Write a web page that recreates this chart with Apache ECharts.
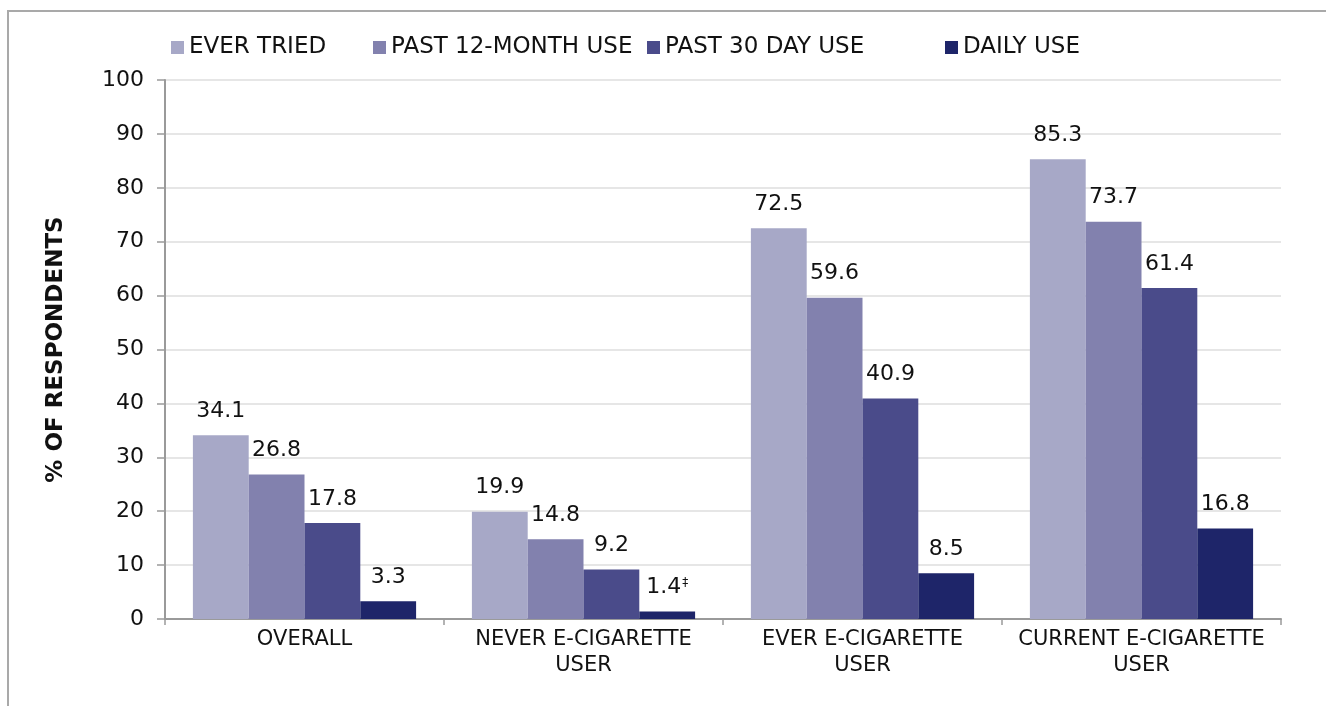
<!DOCTYPE html>
<html><head><meta charset="utf-8">
<script src="https://cdn.jsdelivr.net/npm/echarts@6/dist/echarts.min.js"></script>
<style>
html,body{margin:0;padding:0;background:#fff;}
#frame{position:absolute;left:7px;top:10px;right:0;bottom:0;border-top:2px solid #a9a9a9;border-left:2px solid #a9a9a9;}
#c{position:absolute;left:0;top:0;width:1326px;height:706px;}
</style></head>
<body>
<div id="frame"></div>
<div id="c"></div>
<script>
const categories = ['OVERALL', 'NEVER E-CIGARETTE\nUSER', 'EVER E-CIGARETTE\nUSER', 'CURRENT E-CIGARETTE\nUSER'];
const seriesNames = ['EVER TRIED', 'PAST 12-MONTH USE', 'PAST 30 DAY USE', 'DAILY USE'];
const everTried = [34.1, 19.9, 72.5, 85.3];
const past12Month = [26.8, 14.8, 59.6, 73.7];
const past30Day = [17.8, 9.2, 40.9, 61.4];
const dailyUse = [3.3, 1.4, 8.5, 16.8];
const dailyUseNotes = ['', '‡', '', ''];
const yTicks = [0, 10, 20, 30, 40, 50, 60, 70, 80, 90, 100];
const colors = ['#a7a8c7', '#8281ae', '#4a4b8a', '#1e2569'];
const legendLefts = [171, 373, 647, 945];
const FONT = 'DejaVu Sans';

const allValues = [everTried, past12Month, past30Day, dailyUse];
const notes = [null, null, null, dailyUseNotes];

const chart = echarts.init(document.getElementById('c'), null, {renderer: 'canvas'});
chart.setOption({
  animation: false,
  color: colors,
  textStyle: {fontFamily: FONT},
  legend: seriesNames.map((n, i) => ({
    top: 36, left: legendLefts[i],
    itemWidth: 13, itemHeight: 13, itemGap: 0, padding: 0,
    icon: 'rect',
    textStyle: {fontSize: 23, color: '#111', fontFamily: FONT},
    data: [n]
  })),
  grid: {left: 165, right: 45, top: 80, bottom: 87, containLabel: false},
  xAxis: {
    type: 'category',
    data: categories,
    axisLine: {lineStyle: {color: '#9a9a9a', width: 2}},
    axisTick: {show: true, length: 6, interval: 0, lineStyle: {color: '#9a9a9a', width: 1.5}},
    axisLabel: {interval: 0, fontSize: 21, color: '#111', lineHeight: 26, margin: 8, fontFamily: FONT}
  },
  yAxis: {
    type: 'value', min: 0, max: 100, interval: 10,
    name: '% OF RESPONDENTS', nameLocation: 'middle', nameGap: 97, nameRotate: 90,
    nameTextStyle: {fontSize: 23, fontWeight: 'bold', color: '#111', fontFamily: FONT},
    axisLine: {show: true, lineStyle: {color: '#9a9a9a', width: 2}},
    axisTick: {show: true, length: 8, lineStyle: {color: '#9a9a9a', width: 1.5}},
    axisLabel: {fontSize: 22, color: '#111', margin: 21, fontFamily: FONT,
      formatter: v => yTicks.includes(v) ? String(v) : ''},
    splitLine: {lineStyle: {color: '#dedede', width: 1.5}}
  },
  series: seriesNames.map((name, i) => ({
    name, type: 'bar',
    data: allValues[i],
    barGap: '0%', barCategoryGap: '20%',
    itemStyle: {color: colors[i]},
    label: {
      show: true, position: 'top', distance: 13,
      fontSize: 22, color: '#111', fontFamily: FONT,
      formatter: p => {
        const n = notes[i] && notes[i][p.dataIndex];
        return n ? p.value.toFixed(1) + '{sup|' + n + '}' : p.value.toFixed(1);
      },
      rich: {sup: {fontSize: 12, verticalAlign: 'top', padding: [0, 0, 10, 1], color: '#111', fontFamily: FONT}}
    }
  }))
});
</script>
</body></html>
